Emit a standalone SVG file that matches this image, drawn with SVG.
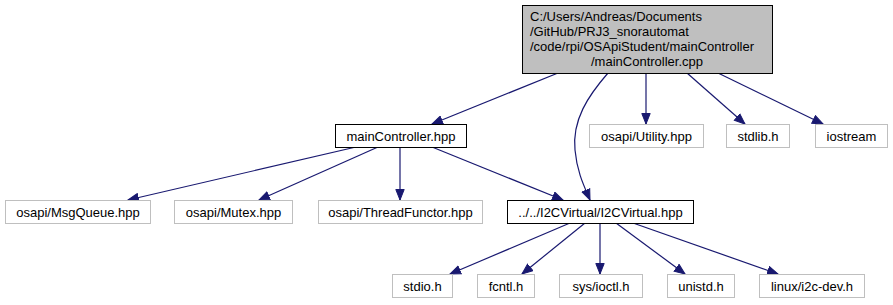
<svg xmlns="http://www.w3.org/2000/svg" width="893" height="305" viewBox="0 0 893 305">
  <style>
    .bg { fill: #ffffff; }
    .box { fill: #ffffff; stroke: #bfbfbf; stroke-width: 1; }
    .box.main { stroke: #000000; }
    .box.root { fill: #bfbfbf; stroke: #000000; }
    text { font-family: "Liberation Sans", Arial, sans-serif; font-size: 13px; fill: #000000; }
    .mid { text-anchor: middle; }
    .edge { fill: none; stroke: #191970; stroke-width: 1.2; marker-end: url(#ah); }
  </style>
  <defs>
    <marker id="ah" markerWidth="12" markerHeight="10" refX="11" refY="5" orient="auto" markerUnits="userSpaceOnUse">
      <path d="M0.5,0.8 L11,5 L0.5,9.2 z" fill="#191970" stroke="#191970" stroke-width="1"/>
    </marker>
  </defs>
  <rect class="bg" x="0" y="0" width="893" height="305"/>

  <!-- include dependency edges -->
  <g id="edges">
    <path class="edge" d="M558,73 L432,124"/>
    <path class="edge" d="M608,73 C588,96 572,120 575,150 C577,172 584,186 590,200"/>
    <path class="edge" d="M646,73 L646,124"/>
    <path class="edge" d="M687,73 L745,124"/>
    <path class="edge" d="M718,73 L823,124"/>
    <path class="edge" d="M356,147 L128,200"/>
    <path class="edge" d="M378,147 L259,200"/>
    <path class="edge" d="M400,147 L400,200"/>
    <path class="edge" d="M432,147 L563,200"/>
    <path class="edge" d="M570,223 L450,274"/>
    <path class="edge" d="M585,223 L522,274"/>
    <path class="edge" d="M600,223 L600,274"/>
    <path class="edge" d="M616,223 L685,274"/>
    <path class="edge" d="M633,223 L778,274"/>
  </g>

  <!-- root source file -->
  <g id="node-root">
    <rect class="box root" x="522.5" y="5.5" width="250" height="68"/>
    <text x="530" y="21">C:/Users/Andreas/Documents</text>
    <text x="530" y="36">/GitHub/PRJ3_snorautomat</text>
    <text x="530" y="51">/code/rpi/OSApiStudent/mainController</text>
    <text class="mid" x="647" y="66">/mainController.cpp</text>
  </g>

  <!-- first level -->
  <g id="node-mainController-hpp">
    <rect class="box main" x="335.5" y="124.5" width="131" height="23"/>
    <text class="mid" x="401" y="140.5">mainController.hpp</text>
  </g>
  <g id="node-utility">
    <rect class="box" x="589.5" y="124.5" width="114" height="23"/>
    <text class="mid" x="646.5" y="140.5">osapi/Utility.hpp</text>
  </g>
  <g id="node-stdlib">
    <rect class="box" x="726.5" y="124.5" width="63" height="23"/>
    <text class="mid" x="758" y="140.5">stdlib.h</text>
  </g>
  <g id="node-iostream">
    <rect class="box" x="815.5" y="124.5" width="72" height="23"/>
    <text class="mid" x="851.5" y="140.5">iostream</text>
  </g>

  <!-- second level -->
  <g id="node-msgqueue">
    <rect class="box" x="5.5" y="200.5" width="145" height="23"/>
    <text class="mid" x="78" y="216.5">osapi/MsgQueue.hpp</text>
  </g>
  <g id="node-mutex">
    <rect class="box" x="174.5" y="200.5" width="118" height="23"/>
    <text class="mid" x="233.5" y="216.5">osapi/Mutex.hpp</text>
  </g>
  <g id="node-threadfunctor">
    <rect class="box" x="318.5" y="200.5" width="164" height="23"/>
    <text class="mid" x="400.5" y="216.5">osapi/ThreadFunctor.hpp</text>
  </g>
  <g id="node-i2cvirtual">
    <rect class="box main" x="507.5" y="200.5" width="186" height="23"/>
    <text class="mid" x="600.5" y="216.5">../../I2CVirtual/I2CVirtual.hpp</text>
  </g>

  <!-- third level -->
  <g id="node-stdio">
    <rect class="box" x="392.5" y="274.5" width="60" height="23"/>
    <text class="mid" x="422.5" y="290.5">stdio.h</text>
  </g>
  <g id="node-fcntl">
    <rect class="box" x="477.5" y="274.5" width="57" height="23"/>
    <text class="mid" x="506" y="290.5">fcntl.h</text>
  </g>
  <g id="node-ioctl">
    <rect class="box" x="559.5" y="274.5" width="83" height="23"/>
    <text class="mid" x="601" y="290.5">sys/ioctl.h</text>
  </g>
  <g id="node-unistd">
    <rect class="box" x="667.5" y="274.5" width="67" height="23"/>
    <text class="mid" x="701" y="290.5">unistd.h</text>
  </g>
  <g id="node-i2cdev">
    <rect class="box" x="759.5" y="274.5" width="105" height="23"/>
    <text class="mid" x="812" y="290.5">linux/i2c-dev.h</text>
  </g>
</svg>
